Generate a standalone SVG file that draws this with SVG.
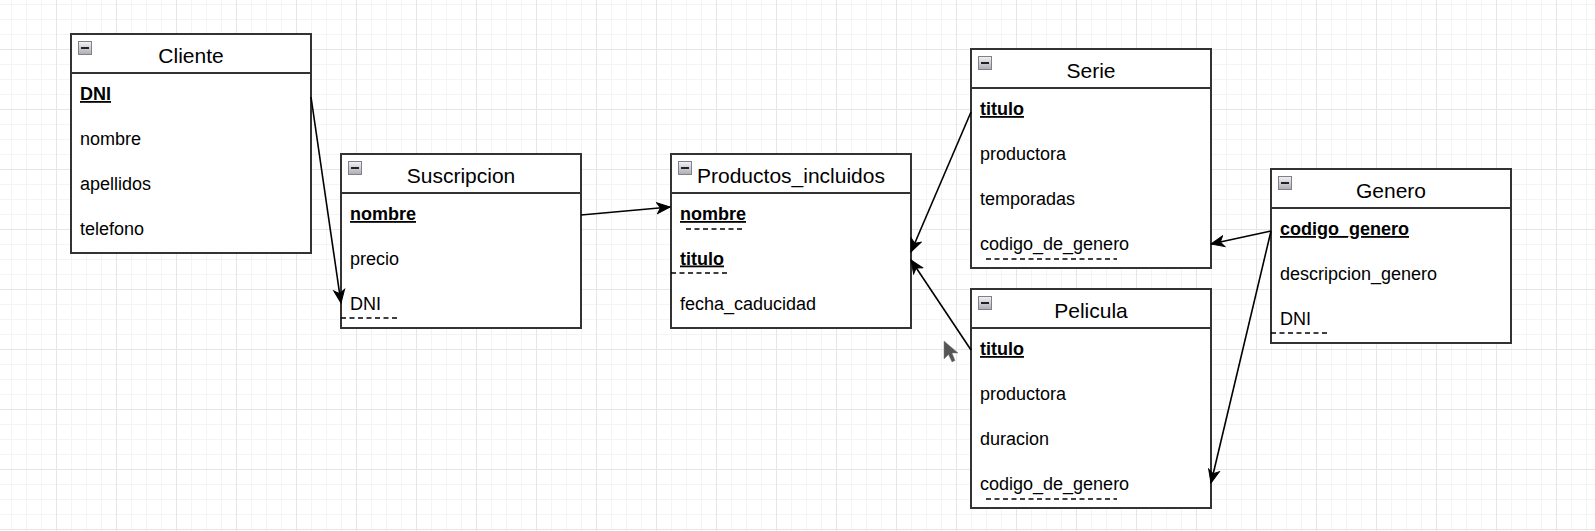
<svg xmlns="http://www.w3.org/2000/svg" width="1595" height="531" viewBox="0 0 1595 531">
<defs>
<style>
.box{fill:#ffffff;stroke:#333333;stroke-width:2}
.sep{stroke:#333333;stroke-width:2}
.title{font-family:"Liberation Sans",Arial,sans-serif;font-size:21px;fill:#000000;text-anchor:middle}
.fld{font-family:"Liberation Sans",Arial,sans-serif;font-size:18px;fill:#000000}
.pk{font-weight:bold;text-decoration:underline}
.fk{stroke:#000000;stroke-width:1.5;stroke-dasharray:5 3.5;fill:none}
.edge{stroke:#000000;stroke-width:1.6;fill:none;marker-end:url(#arr)}
</style>
<pattern id="gmin" patternUnits="userSpaceOnUse" x="11" y="4" width="15" height="15">
<path d="M0.5,0 V15 M0,0.5 H15" stroke="#f4f4f4" stroke-width="1" fill="none"/>
</pattern>
<pattern id="gmaj" patternUnits="userSpaceOnUse" x="56" y="49" width="60" height="60">
<path d="M0.5,0 V60 M0,0.5 H60" stroke="#e6e6e6" stroke-width="1" fill="none"/>
</pattern>
<linearGradient id="ig" x1="0" y1="0" x2="0" y2="1">
<stop offset="0" stop-color="#f2f2f6"/>
<stop offset="1" stop-color="#acacb4"/>
</linearGradient>
<g id="icon">
<rect x="0.5" y="0.5" width="13" height="13" fill="url(#ig)" stroke="#80808a" stroke-width="1"/>
<rect x="3" y="6" width="8" height="2" fill="#222222"/>
</g>
<marker id="arr" markerUnits="userSpaceOnUse" markerWidth="16" markerHeight="14" viewBox="-14 -7 16 14" refX="0" refY="0" orient="auto">
<path d="M0,0 L-13,-5.5 L-9.5,0 L-13,5.5 Z" fill="#000000" stroke="#000000" stroke-width="1"/>
</marker>
</defs>
<rect width="1595" height="531" fill="#ffffff"/>
<rect width="1595" height="531" fill="url(#gmin)"/>
<rect width="1595" height="531" fill="url(#gmaj)"/>

<g id="cliente">
<rect class="box" x="71" y="34" width="240" height="219"/>
<line class="sep" x1="71" y1="73" x2="311" y2="73"/>
<use href="#icon" x="78" y="41"/>
<text class="title" x="191" y="63">Cliente</text>
<text class="fld pk" x="80" y="100">DNI</text>
<text class="fld" x="80" y="144.5">nombre</text>
<text class="fld" x="80" y="189.5">apellidos</text>
<text class="fld" x="80" y="234.5">telefono</text>
</g>

<g id="suscripcion">
<rect class="box" x="341" y="154" width="240" height="174"/>
<line class="sep" x1="341" y1="193" x2="581" y2="193"/>
<use href="#icon" x="348" y="161"/>
<text class="title" x="461" y="183">Suscripcion</text>
<text class="fld pk" x="350" y="220">nombre</text>
<text class="fld" x="350" y="264.5">precio</text>
<text class="fld" x="350" y="309.5">DNI</text>
<line class="fk" x1="341" y1="318" x2="400" y2="318"/>
</g>

<g id="productos_incluidos">
<rect class="box" x="671" y="154" width="240" height="174"/>
<line class="sep" x1="671" y1="193" x2="911" y2="193"/>
<use href="#icon" x="678" y="161"/>
<text class="title" x="791" y="183">Productos_incluidos</text>
<text class="fld pk" x="680" y="220">nombre</text>
<line class="fk" x1="686" y1="229" x2="745" y2="229"/>
<text class="fld pk" x="680" y="264.5">titulo</text>
<line class="fk" x1="671" y1="273" x2="729" y2="273"/>
<text class="fld" x="680" y="309.5">fecha_caducidad</text>
</g>

<g id="serie">
<rect class="box" x="971" y="49" width="240" height="219"/>
<line class="sep" x1="971" y1="88" x2="1211" y2="88"/>
<use href="#icon" x="978" y="56"/>
<text class="title" x="1091" y="78">Serie</text>
<text class="fld pk" x="980" y="115">titulo</text>
<text class="fld" x="980" y="159.5">productora</text>
<text class="fld" x="980" y="204.5">temporadas</text>
<text class="fld" x="980" y="249.5">codigo_de_genero</text>
<line class="fk" x1="986" y1="259" x2="1117" y2="259"/>
</g>

<g id="pelicula">
<rect class="box" x="971" y="289" width="240" height="219"/>
<line class="sep" x1="971" y1="328" x2="1211" y2="328"/>
<use href="#icon" x="978" y="296"/>
<text class="title" x="1091" y="318">Pelicula</text>
<text class="fld pk" x="980" y="355">titulo</text>
<text class="fld" x="980" y="399.5">productora</text>
<text class="fld" x="980" y="444.5">duracion</text>
<text class="fld" x="980" y="489.5">codigo_de_genero</text>
<line class="fk" x1="986" y1="499" x2="1117" y2="499"/>
</g>

<g id="genero">
<rect class="box" x="1271" y="169" width="240" height="174"/>
<line class="sep" x1="1271" y1="208" x2="1511" y2="208"/>
<use href="#icon" x="1278" y="176"/>
<text class="title" x="1391" y="198">Genero</text>
<text class="fld pk" x="1280" y="235">codigo_genero</text>
<text class="fld" x="1280" y="279.5">descripcion_genero</text>
<text class="fld" x="1280" y="324.5">DNI</text>
<line class="fk" x1="1271" y1="333" x2="1329" y2="333"/>
</g>

<g id="connectors">
<path class="edge" d="M311,97 L341,303"/>
<path class="edge" d="M581,215 L670,207"/>
<path class="edge" d="M971,112 L911,252"/>
<path class="edge" d="M971,350 L911,260"/>
<path class="edge" d="M1271,231 L1211,244"/>
<path class="edge" d="M1271,231 L1211,483"/>
</g>

<path d="M944,341 L944,359 L948.5,354.5 L952,362 L955,360.5 L952,353 L958,353 Z" fill="#555555" stroke="#7a7a7a" stroke-width="0.5"/>
</svg>
